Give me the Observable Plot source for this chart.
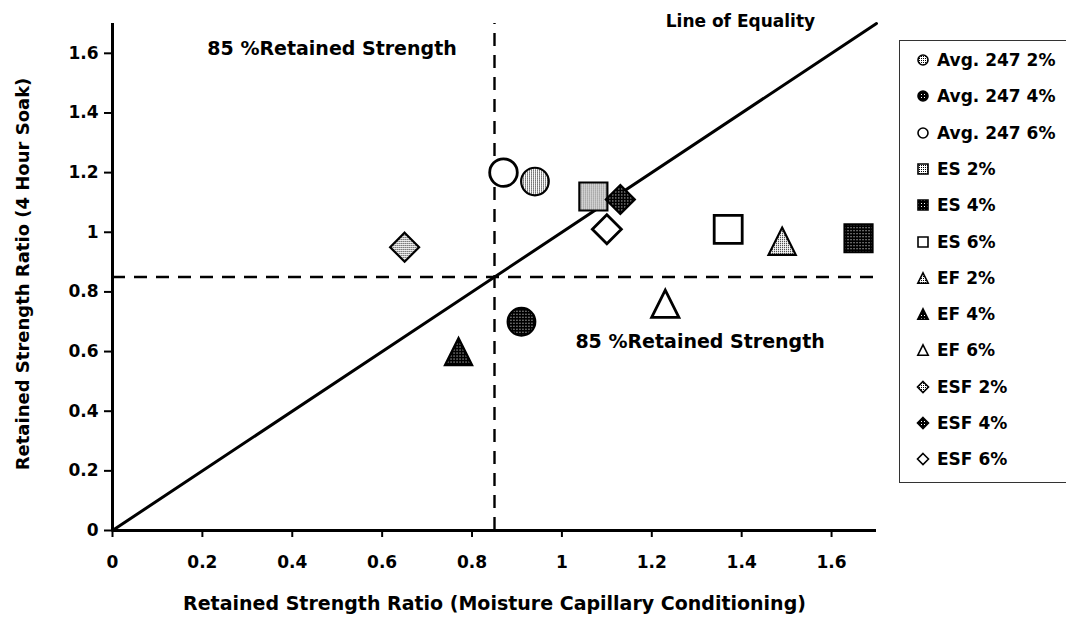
<!DOCTYPE html>
<html><head><meta charset="utf-8">
<script src="https://cdn.jsdelivr.net/npm/d3@7"></script>
<script src="https://cdn.jsdelivr.net/npm/@observablehq/plot@0.6"></script>
<style>
body{margin:0;background:#fff;font-family:"DejaVu Sans",sans-serif;font-weight:bold;}
#wrap{position:relative;width:1066px;height:617px;overflow:hidden;}
#legend{position:absolute;left:899px;top:40px;width:200px;height:443px;border:1px solid #333;box-sizing:border-box;}
.item{position:absolute;left:0;height:24px;display:flex;align-items:center;font-size:17px;color:#000;white-space:nowrap;}
.item svg{margin-left:16px;margin-right:7px;}
</style></head><body><div id="wrap"></div>
<script>
// ---- data ----
const seriesNames = ["Avg. 247 2%","Avg. 247 4%","Avg. 247 6%","ES 2%","ES 4%","ES 6%","EF 2%","EF 4%","EF 6%","ESF 2%","ESF 4%","ESF 6%"];
const xValues = [0.94, 0.91, 0.87, 1.07, 1.66, 1.37, 1.49, 0.77, 1.23, 0.65, 1.13, 1.10];
const yValues = [1.17, 0.70, 1.20, 1.12, 0.98, 1.01, 0.97, 0.60, 0.76, 0.95, 1.11, 1.01];
const shapes  = ["circle","circle","circle","square","square","square","triangle","triangle","triangle","diamond","diamond","diamond"];
const fillKinds = ["light","dark","white","light","dark","white","light","dark","white","light","dark","white"];

const xTicks = [0,0.2,0.4,0.6,0.8,1,1.2,1.4,1.6];
const xTickLabels = ["0","0.2","0.4","0.6","0.8","1","1.2","1.4","1.6"];
const yTicks = [0,0.2,0.4,0.6,0.8,1,1.2,1.4,1.6];
const yTickLabels = ["0","0.2","0.4","0.6","0.8","1","1.2","1.4","1.6"];

const axisMax = 1.7;
const retainedThreshold = 0.85;
const equalityX = [0, 1.7];
const equalityY = [0, 1.7];

const annotationTexts = ["85 %Retained Strength","85 %Retained Strength","Line of Equality"];
const annotationX = [0.211, 1.030, 1.231];
const annotationY = [1.614, 0.634, 1.705];

const xLabel = "Retained Strength Ratio (Moisture Capillary Conditioning)";
const yLabel = "Retained Strength Ratio (4 Hour Soak)";

// ---- styles ----
const fillMap = {light:"url(#pLight)", dark:"url(#pDark)", white:"white"};
function rad(size){return Math.sqrt(size/Math.PI);}
const symbols = {
  circle:{draw(c,s){const r=rad(s);c.moveTo(r,0);c.arc(0,0,r,0,2*Math.PI);c.closePath();}},
  square:{draw(c,s){const r=rad(s);c.rect(-r,-r,2*r,2*r);}},
  triangle:{draw(c,s){const r=rad(s);c.moveTo(0,-r);c.lineTo(r,r);c.lineTo(-r,r);c.closePath();}},
  diamond:{draw(c,s){const r=rad(s);c.moveTo(0,-r);c.lineTo(r,0);c.lineTo(0,r);c.lineTo(-r,0);c.closePath();}}
};
const symR = {circle:13.8, square:14, triangle:13.6, diamond:14.5};
const legR = {circle:5, square:5, triangle:5.2, diamond:5.5};

// pattern defs
const defsSvg = `<svg width="0" height="0" style="position:absolute"><defs>
<pattern id="pLight" width="2" height="2" patternUnits="userSpaceOnUse"><rect width="2" height="2" fill="#fff"/><rect width="1" height="1" fill="#000"/></pattern>
<pattern id="pDark" width="3" height="3" patternUnits="userSpaceOnUse"><rect width="3" height="3" fill="#000"/><rect x="1" y="1" width="1" height="1" fill="#fff"/></pattern>
</defs></svg>`;
const wrap = document.getElementById("wrap");
wrap.insertAdjacentHTML("beforeend", defsSvg);

const idx = d3.range(seriesNames.length);
const pointMarks = idx.map(i => Plot.dot([i], {
  x: j => xValues[j], y: j => yValues[j],
  symbol: symbols[shapes[i]], r: symR[shapes[i]],
  fill: fillMap[fillKinds[i]], stroke: "#000",
  strokeWidth: fillKinds[i] === "white" ? 2.8 : 2.2
}));

const chart = Plot.plot({
  width: 1066, height: 617,
  marginLeft: 112, marginRight: 190, marginTop: 23, marginBottom: 87,
  x: {domain: [0, axisMax]},
  y: {domain: [0, axisMax]},
  style: {fontFamily: "DejaVu Sans", fontWeight: "bold", fontSize: "17px", color: "#000", background: "transparent"},
  marks: [
    Plot.ruleX([retainedThreshold], {y1: 0, y2: axisMax, strokeWidth: 2.4, strokeDasharray: "13,9", stroke: "#000"}),
    Plot.ruleY([retainedThreshold], {x1: 0, x2: axisMax, strokeWidth: 2.4, strokeDasharray: "13,9", stroke: "#000"}),
    Plot.line(equalityX.map((x, i) => ({x, y: equalityY[i]})), {x: "x", y: "y", strokeWidth: 3, stroke: "#000"}),
    Plot.ruleY([0], {x1: 0, x2: axisMax, strokeWidth: 3, stroke: "#000"}),
    Plot.ruleX([0], {y1: 0, y2: axisMax, strokeWidth: 3, stroke: "#000"}),
    Plot.axisX(xTicks, {tickFormat: d => xTickLabels[xTicks.indexOf(d)], tickSize: 7, tickPadding: 18, strokeWidth: 2, label: null, fontSize: 17}),
    Plot.axisY(yTicks, {tickFormat: d => yTickLabels[yTicks.indexOf(d)], tickSize: 8, tickPadding: 6, strokeWidth: 2, label: null, fontSize: 17}),
    Plot.text([xLabel], {frameAnchor: "bottom", dy: 73, fontSize: 19, textAnchor: "middle", lineAnchor: "middle", text: d => d}),
    Plot.text([yLabel], {frameAnchor: "left", dx: -89, dy: -3, rotate: -90, fontSize: 18, textAnchor: "middle", lineAnchor: "middle", text: d => d}),
    Plot.text(d3.range(2), {x: i => annotationX[i], y: i => annotationY[i], text: i => annotationTexts[i], textAnchor: "start", lineAnchor: "middle", fontSize: 19}),
    Plot.text([2], {x: i => annotationX[i], y: i => annotationY[i], text: i => annotationTexts[i], textAnchor: "start", lineAnchor: "middle", fontSize: 17}),
    ...pointMarks
  ]
});
wrap.appendChild(chart);

// legend
const legend = document.createElement("div");
legend.id = "legend";
idx.forEach(i => {
  const item = document.createElement("div");
  item.className = "item";
  item.style.top = (20 - 1 + 36.3 * i - 12) + "px";
  const p = d3.path();
  const r = legR[shapes[i]];
  symbols[shapes[i]].draw(p, r * r * Math.PI);
  item.innerHTML = `<svg width="14" height="14" viewBox="-7 -7 14 14"><path d="${p.toString()}" fill="${fillMap[fillKinds[i]]}" stroke="#000" stroke-width="1.6"/></svg><span>${seriesNames[i]}</span>`;
  legend.appendChild(item);
});
wrap.appendChild(legend);
</script>
</body></html>
